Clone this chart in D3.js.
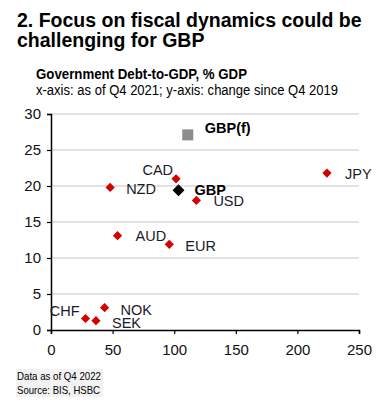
<!DOCTYPE html>
<html>
<head>
<meta charset="utf-8">
<script src="https://cdn.jsdelivr.net/npm/d3@7"></script>
<style>
  body { margin: 0; background: #fff; }
  svg { font-family: Arial, "Liberation Sans", sans-serif; }
</style>
</head>
<body>
<svg id="chart" width="392" height="410"></svg>
<script>
// currencies and their values
const names = ['GBP(f)', 'CAD', 'GBP', 'NZD', 'USD', 'JPY', 'AUD', 'EUR', 'CHF', 'NOK', 'SEK'];
const debtQ42021 = [111, 101.5, 103.5, 48, 118, 224, 54, 96, 28, 43.5, 36.5]; // x
const changeSince2019 = [27.1, 21.0, 19.4, 19.8, 18.0, 21.8, 13.1, 11.9, 1.6, 3.1, 1.3]; // y
const kinds = ['forecast', 'peer', 'gbp', 'peer', 'peer', 'peer', 'peer', 'peer', 'peer', 'peer', 'peer'];

const xTicks = [0, 50, 100, 150, 200, 250];
const yTicks = [0, 5, 10, 15, 20, 25, 30];

// label placement relative to the marker (dx, dy, anchor)
const labelPos = {
  'GBP(f)': [17, -2, 'start'],
  'CAD': [-3, -4, 'end'],
  'GBP': [16, 4.5, 'start'],
  'NZD': [16, 7, 'start'],
  'USD': [17, 6, 'start'],
  'JPY': [18, 6, 'start'],
  'AUD': [18, 5.5, 'start'],
  'EUR': [16, 7, 'start'],
  'CHF': [-6, -2.5, 'end'],
  'NOK': [16, 7.5, 'start'],
  'SEK': [16, 7, 'start']
};

const svg = d3.select('#chart');

// titles
svg.append('text').attr('x', 17).attr('y', 26.5)
  .attr('font-size', 19.5).attr('font-weight', 'bold').attr('fill', '#000')
  .text('2. Focus on fiscal dynamics could be');
svg.append('text').attr('x', 17).attr('y', 46.5)
  .attr('font-size', 19.5).attr('font-weight', 'bold').attr('fill', '#000')
  .text('challenging for GBP');

svg.append('text').attr('x', 36).attr('y', 79)
  .attr('font-size', 14).attr('font-weight', 'bold').attr('fill', '#000')
  .attr('textLength', 211).attr('lengthAdjust', 'spacingAndGlyphs')
  .text('Government Debt-to-GDP, % GDP');
svg.append('text').attr('x', 36).attr('y', 94.5)
  .attr('font-size', 14).attr('fill', '#000')
  .attr('textLength', 302).attr('lengthAdjust', 'spacingAndGlyphs')
  .text('x-axis: as of Q4 2021; y-axis: change since Q4 2019');

const x = d3.scaleLinear().domain([0, 250]).range([51, 359]);
const y = d3.scaleLinear().domain([0, 30]).range([330, 114]);

// gridlines
svg.append('g').selectAll('line')
  .data(yTicks.filter(d => d > 0))
  .enter().append('line')
  .attr('x1', x(0)).attr('x2', x(250))
  .attr('y1', d => y(d)).attr('y2', d => y(d))
  .attr('stroke', '#d9d9d9').attr('stroke-width', 1.5);

// axes
const xAxis = svg.append('g').attr('transform', `translate(0,${y(0)})`)
  .call(d3.axisBottom(x).tickValues(xTicks).tickSize(4).tickPadding(10));
const yAxis = svg.append('g').attr('transform', `translate(${x(0)},0)`)
  .call(d3.axisLeft(y).tickValues(yTicks).tickSize(4).tickPadding(6));

[xAxis, yAxis].forEach(a => {
  a.select('.domain').attr('stroke', '#000').attr('stroke-width', 1.5);
  a.selectAll('.tick line').attr('stroke', '#000').attr('stroke-width', 1.2);
  a.selectAll('.tick text').attr('font-size', 15).attr('fill', '#111')
    .attr('font-family', 'Arial, "Liberation Sans", sans-serif');
});

// points
const pts = names.map((n, i) => ({ name: n, x: debtQ42021[i], y: changeSince2019[i], kind: kinds[i] }));

const diamondPath = r => `M0,${-r}L${r},0L0,${r}L${-r},0Z`;

const marks = svg.append('g').selectAll('g')
  .data(pts).enter().append('g')
  .attr('transform', d => `translate(${x(d.x)},${y(d.y)})`);

marks.filter(d => d.kind === 'peer').append('path')
  .attr('d', diamondPath(4.6)).attr('fill', '#d40000');
marks.filter(d => d.kind === 'gbp').append('path')
  .attr('d', diamondPath(6)).attr('fill', '#000');
marks.filter(d => d.kind === 'forecast').append('rect')
  .attr('x', -5.5).attr('y', -5.5).attr('width', 11).attr('height', 11)
  .attr('fill', '#8c8c8c');

marks.append('text')
  .attr('x', d => labelPos[d.name][0])
  .attr('y', d => labelPos[d.name][1])
  .attr('text-anchor', d => labelPos[d.name][2])
  .attr('font-size', 14.5)
  .attr('font-weight', d => d.kind === 'peer' ? 'normal' : 'bold')
  .attr('fill', d => d.kind === 'peer' ? '#1a1a2a' : '#000')
  .text(d => d.name);

// footer
svg.append('rect').attr('x', 16).attr('y', 369).attr('width', 87).attr('height', 28)
  .attr('fill', '#f2f2f2');
svg.append('text').attr('x', 17).attr('y', 380)
  .attr('font-size', 11).attr('fill', '#000')
  .attr('textLength', 84).attr('lengthAdjust', 'spacingAndGlyphs')
  .text('Data as of Q4 2022');
svg.append('text').attr('x', 17).attr('y', 393.5)
  .attr('font-size', 11).attr('fill', '#000')
  .attr('textLength', 83).attr('lengthAdjust', 'spacingAndGlyphs')
  .text('Source: BIS, HSBC');
</script>
</body>
</html>
